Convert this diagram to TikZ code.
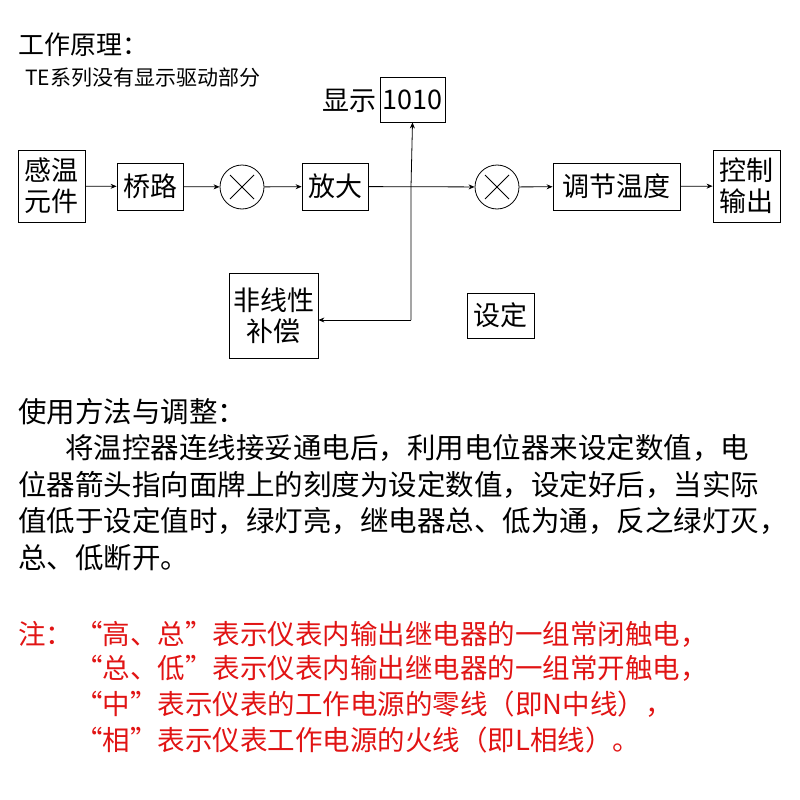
\documentclass[tikz,border=0pt]{standalone}
\usepackage{fontspec}
\setmainfont{Noto Sans CJK SC}
\usetikzlibrary{arrows.meta}
\begin{document}
\begin{tikzpicture}[x=1pt,y=-1pt,
  box/.style={draw,thick,inner sep=0pt,align=center,font=\fontsize{27}{31}\selectfont},
  mul/.style={draw,thick,circle,minimum size=44pt,inner sep=0pt},
  arr/.style={-{Stealth[length=6pt,width=5pt]},thick},
  txt/.style={anchor=west,inner sep=0pt,font=\fontsize{28.5}{31}\selectfont},
  red/.style={txt,font=\fontsize{27.5}{30}\selectfont,text={rgb,255:red,225;green,20;blue,20}}]
\useasboundingbox (0,0) rectangle (800,800);
\node[anchor=west,inner sep=0pt,font=\fontsize{26}{28}\selectfont] (t1) at (18,45) {工作原理：};
\node[anchor=west,inner sep=0pt,font=\fontsize{21}{23}\selectfont] (t2) at (25,78) {TE系列没有显示驱动部分};
\node[box,minimum width=67pt,minimum height=72pt] (a) at (51.5,186) {感温\\元件};
\node[box,minimum width=66pt,minimum height=47pt] (b) at (150,186.5) {桥路};
\node[mul] (c1) at (242,187) {};
\draw[thick] (230,175)--(254,199) (254,175)--(230,199);
\node[box,minimum width=66pt,minimum height=47pt] (d) at (335,186.5) {放大};
\node[mul] (c2) at (497,187) {};
\draw[thick] (485,175)--(509,199) (509,175)--(485,199);
\node[box,minimum width=127pt,minimum height=47pt] (e) at (616.5,186.5) {调节温度};
\node[box,minimum width=67pt,minimum height=72pt] (f) at (746.5,186) {控制\\输出};
\node[box,minimum width=65pt,minimum height=45pt] (g) at (412.5,99.5) {1010};
\node[anchor=east,inner sep=0pt,font=\fontsize{27}{30}\selectfont] (gl) at (377,101) {显示};
\node[box,minimum width=89pt,minimum height=85pt] (h) at (273.5,315.5) {非线性\\补偿};
\node[box,minimum width=67pt,minimum height=45pt] (s) at (500.5,315.5) {设定};
\coordinate (j) at (411,187);
\coordinate (k) at (411,320);
\draw[arr] (a) -- (b);
\draw[arr] (b) -- (c1);
\draw[arr] (c1) -- (d);
\draw[arr] (d) -- (c2);
\draw[arr] (c2) -- (e);
\draw[arr] (e) -- (f);
\draw[arr] (k) -- (j) -- (g.south);
\draw[arr] (k) -- (h.east |- k);
\node[txt] (u0) at (18,412) {使用方法与调整：};
\node[txt] (u1) at (65,448) {将温控器连线接妥通电后，利用电位器来设定数值，电};
\node[txt] (u2) at (18,485) {位器箭头指向面牌上的刻度为设定数值，设定好后，当实际};
\node[txt] (u3) at (18,521) {值低于设定值时，绿灯亮，继电器总、低为通，反之绿灯灭，};
\node[txt] (u4) at (18,558) {总、低断开。};
\node[red] (n0) at (18,634) {注：};
\node[red] (n1) at (75,634) {“高、总”表示仪表内输出继电器的一组常闭触电，};
\node[red] (n2) at (75,668) {“总、低”表示仪表内输出继电器的一组常开触电，};
\node[red] (n3) at (75,704) {“中”表示仪表的工作电源的零线（即N中线），};
\node[red] (n4) at (75,740) {“相”表示仪表工作电源的火线（即L相线）。};
\end{tikzpicture}
\end{document}
